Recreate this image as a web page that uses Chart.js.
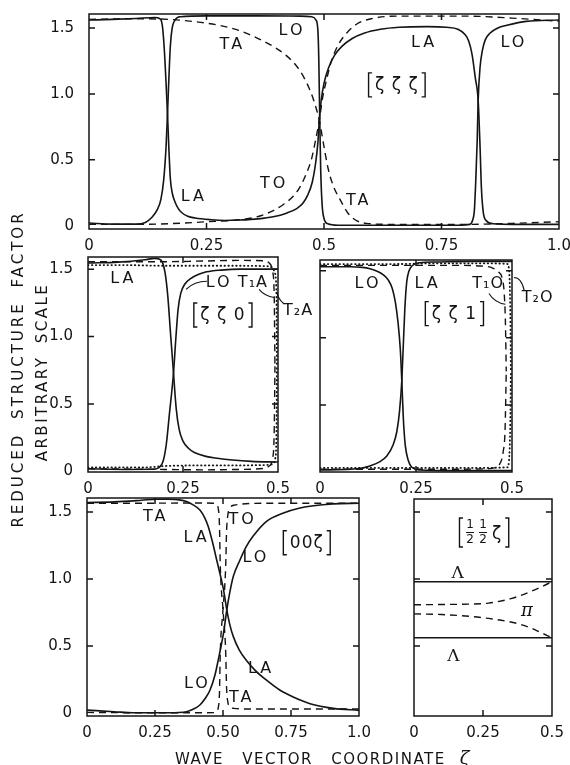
<!DOCTYPE html>
<html lang="en">
<head>
<meta charset="UTF-8">
<title>Reduced structure factor vs wave vector coordinate</title>
<style>
  body { margin: 0; background: #fff; }
  .page { position: relative; width: 570px; height: 765px; overflow: hidden; font-family: "DejaVu Sans", sans-serif; color: #141414; }
  .page canvas { position: absolute; left: 0; top: 0; }
  .ytitle { position: absolute; white-space: nowrap; font-size: 15px; line-height: 15px; transform: translate(-50%, -50%) rotate(-90deg); }
  .xtitle { position: absolute; left: 175px; top: 750px; white-space: nowrap; font-size: 15px; line-height: 15px; letter-spacing: 1.5px; word-spacing: 12px; }
  .xtitle i { font-family: "DejaVu Serif", serif; font-size: 18px; margin-left: 14px; }
</style>
</head>
<body>
<div class="page">
  <canvas id="p1" width="570" height="765"></canvas>
  <canvas id="p2" width="570" height="765"></canvas>
  <canvas id="p3" width="570" height="765"></canvas>
  <canvas id="p4" width="570" height="765"></canvas>
  <canvas id="p5" width="570" height="765"></canvas>
  <div class="ytitle" style="left:18px; top:369px; letter-spacing:3px; word-spacing:6px;">REDUCED STRUCTURE FACTOR</div>
  <div class="ytitle" style="left:42px; top:372px; letter-spacing:2.5px; word-spacing:5px;">ARBITRARY SCALE</div>
  <div class="xtitle">WAVE VECTOR COORDINATE<i>ζ</i></div>
</div>

<script src="https://cdn.jsdelivr.net/npm/chart.js"></script>
<script>
// ---- tick values / labels ----
const yTickVals = [0, 0.5, 1.0, 1.5];
const yTickText = ['0', '0.5', '1.0', '1.5'];
const xFullVals = [0, 0.25, 0.5, 0.75, 1.0];
const xFullText = ['0', '0.25', '0.5', '0.75', '1.0'];
const x00zText = ['0', '0.25', '0.50', '0.75', '1.0'];
const xHalfVals = [0, 0.25, 0.5];
const xHalfText = ['0', '0.25', '0.5'];

// ---- [zeta zeta zeta] ----
const zzzLA = [[0,1.56],[0.05,1.565],[0.1,1.572],[0.14,1.58],[0.15,1.572],[0.156,1.52],[0.16,1.35],[0.164,1.08],[0.167,0.85],[0.17,0.58],[0.173,0.36],[0.177,0.25],[0.183,0.18],[0.19,0.13],[0.197,0.1],[0.21,0.072],[0.226,0.058],[0.26,0.045],[0.289,0.04],[0.32,0.043],[0.36,0.052],[0.392,0.068],[0.42,0.095],[0.442,0.13],[0.455,0.17],[0.465,0.23],[0.475,0.33],[0.482,0.47],[0.487,0.63],[0.49,0.8],[0.494,0.95],[0.5,1.08],[0.51,1.2],[0.522,1.29],[0.538,1.36],[0.56,1.42],[0.585,1.46],[0.62,1.49],[0.66,1.505],[0.72,1.51],[0.76,1.505],[0.785,1.49],[0.8,1.45],[0.808,1.4],[0.815,1.3],[0.822,1.12],[0.828,0.95],[0.832,0.6],[0.835,0.28],[0.839,0.1],[0.845,0.04],[0.86,0.015],[0.9,0.01],[1,0.01]];
const zzzLO = [[0,0.02],[0.05,0.012],[0.1,0.012],[0.12,0.025],[0.133,0.06],[0.145,0.12],[0.153,0.2],[0.159,0.35],[0.164,0.6],[0.167,0.85],[0.17,1.12],[0.173,1.36],[0.177,1.5],[0.183,1.56],[0.195,1.585],[0.25,1.592],[0.35,1.592],[0.45,1.59],[0.474,1.585],[0.483,1.56],[0.487,1.48],[0.489,1.25],[0.491,0.8],[0.493,0.42],[0.496,0.16],[0.5,0.055],[0.508,0.015],[0.53,0.004],[0.7,0.003],[0.79,0.004],[0.81,0.01],[0.816,0.04],[0.82,0.12],[0.823,0.35],[0.826,0.65],[0.828,0.95],[0.832,1.2],[0.837,1.33],[0.843,1.41],[0.853,1.46],[0.87,1.5],[0.889,1.52],[0.93,1.55],[1,1.56]];
const zzzTA = [[0,1.565],[0.1,1.57],[0.17,1.565],[0.22,1.55],[0.27,1.525],[0.32,1.48],[0.36,1.42],[0.392,1.36],[0.42,1.29],[0.442,1.21],[0.458,1.12],[0.47,1.03],[0.48,0.93],[0.49,0.8],[0.5,0.6],[0.509,0.43],[0.52,0.3],[0.534,0.2],[0.55,0.1],[0.566,0.045],[0.59,0.018],[0.65,0.01],[0.8,0.01],[0.9,0.018],[1,0.03]];
const zzzTO = [[0,0.01],[0.1,0.01],[0.2,0.02],[0.25,0.03],[0.32,0.045],[0.36,0.07],[0.392,0.115],[0.415,0.165],[0.435,0.225],[0.45,0.3],[0.463,0.4],[0.473,0.5],[0.481,0.63],[0.49,0.8],[0.497,0.97],[0.505,1.1],[0.515,1.24],[0.53,1.37],[0.548,1.46],[0.57,1.53],[0.6,1.57],[0.66,1.59],[0.8,1.59],[0.9,1.575],[1,1.55]];

// ---- [zeta zeta 0] ----
const zz0LA = [[0,1.545],[0.08,1.552],[0.15,1.57],[0.175,1.58],[0.187,1.575],[0.196,1.55],[0.203,1.47],[0.21,1.3],[0.217,1.03],[0.225,0.73],[0.232,0.47],[0.24,0.31],[0.25,0.225],[0.265,0.17],[0.28,0.14],[0.31,0.112],[0.34,0.098],[0.38,0.085],[0.43,0.075],[0.5,0.07]];
const zz0LO = [[0,0.02],[0.1,0.015],[0.17,0.016],[0.188,0.03],[0.198,0.08],[0.206,0.2],[0.214,0.42],[0.225,0.73],[0.231,0.98],[0.237,1.2],[0.244,1.32],[0.255,1.39],[0.27,1.43],[0.29,1.46],[0.312,1.48],[0.35,1.493],[0.4,1.5],[0.5,1.5]];
const zz0T1Ahi = [[0,1.555],[0.2,1.555],[0.3,1.56],[0.4,1.565],[0.46,1.562],[0.477,1.545],[0.486,1.48],[0.49,1.3],[0.492,0.78]];
const zz0T1Alo = [[0,0.02],[0.2,0.015],[0.3,0.012],[0.4,0.015],[0.46,0.022],[0.477,0.04],[0.486,0.1],[0.49,0.3],[0.492,0.78]];
const zz0T2Ahi = [[0,1.53],[0.1,1.53],[0.2,1.525],[0.3,1.525],[0.4,1.525],[0.47,1.522],[0.485,1.51],[0.492,1.47],[0.496,1.3],[0.497,0.78]];
const zz0T2Alo = [[0,0.03],[0.15,0.03],[0.2,0.04],[0.3,0.045],[0.4,0.045],[0.47,0.048],[0.486,0.055],[0.493,0.1],[0.496,0.3],[0.497,0.78]];

// ---- [zeta zeta 1] ----
const zz1LO = [[0,1.53],[0.08,1.53],[0.11,1.525],[0.13,1.515],[0.15,1.495],[0.165,1.47],[0.178,1.43],[0.188,1.37],[0.196,1.27],[0.203,1.12],[0.209,0.92],[0.213,0.68],[0.217,0.4],[0.222,0.2],[0.23,0.085],[0.239,0.035],[0.26,0.015],[0.35,0.01],[0.5,0.01]];
const zz1LA = [[0,0.015],[0.08,0.02],[0.11,0.03],[0.13,0.045],[0.155,0.075],[0.174,0.12],[0.19,0.2],[0.2,0.3],[0.207,0.45],[0.213,0.68],[0.217,0.95],[0.221,1.22],[0.226,1.42],[0.232,1.5],[0.239,1.535],[0.26,1.56],[0.3,1.565],[0.4,1.57],[0.5,1.57]];
const zz1T1Ohi = [[0,1.54],[0.2,1.54],[0.35,1.54],[0.42,1.535],[0.45,1.52],[0.465,1.49],[0.474,1.45],[0.48,1.32],[0.483,1.1],[0.485,0.75]];
const zz1T1Olo = [[0,0.02],[0.3,0.02],[0.44,0.025],[0.46,0.04],[0.47,0.07],[0.477,0.15],[0.482,0.32],[0.485,0.75]];
const zz1T2Ohi = [[0,1.55],[0.2,1.55],[0.3,1.555],[0.45,1.555],[0.488,1.55],[0.493,1.48],[0.496,1.1],[0.497,0.75]];
const zz1T2Olo = [[0,0.03],[0.2,0.03],[0.4,0.03],[0.488,0.035],[0.493,0.12],[0.496,0.45],[0.497,0.75]];

// ---- [0 0 zeta] ----
const z00LA = [[0,1.57],[0.1,1.575],[0.2,1.587],[0.256,1.595],[0.3,1.595],[0.34,1.59],[0.366,1.577],[0.39,1.553],[0.415,1.515],[0.432,1.46],[0.446,1.39],[0.462,1.27],[0.477,1.14],[0.49,1.03],[0.501,0.93],[0.514,0.77],[0.525,0.66],[0.538,0.57],[0.56,0.47],[0.587,0.39],[0.62,0.315],[0.66,0.245],[0.71,0.17],[0.758,0.12],[0.82,0.07],[0.906,0.035],[1,0.02]];
const z00LO = [[0,0.022],[0.1,0.01],[0.17,0.002],[0.3,0.002],[0.366,0.01],[0.39,0.028],[0.415,0.06],[0.435,0.11],[0.452,0.17],[0.47,0.28],[0.483,0.4],[0.493,0.5],[0.503,0.61],[0.514,0.77],[0.525,0.9],[0.538,1.02],[0.562,1.14],[0.585,1.24],[0.611,1.32],[0.66,1.43],[0.72,1.49],[0.783,1.53],[0.906,1.56],[1,1.565]];
const z00TA = [[0,1.565],[0.2,1.565],[0.4,1.567],[0.464,1.565],[0.476,1.555],[0.483,1.52],[0.487,1.4],[0.49,1.1],[0.5,0.77],[0.51,0.45],[0.513,0.2],[0.518,0.08],[0.526,0.045],[0.54,0.035],[0.6,0.03],[0.75,0.03],[1,0.03]];
const z00TO = [[0,0.005],[0.2,0.002],[0.4,0.002],[0.464,0.003],[0.476,0.012],[0.483,0.045],[0.487,0.15],[0.49,0.45],[0.5,0.77],[0.51,1.1],[0.513,1.35],[0.518,1.48],[0.526,1.53],[0.54,1.55],[0.66,1.565],[1,1.565]];

// ---- [1/2 1/2 zeta] ----
const hhzLamHi = [[0,0.98],[0.5,0.98]];
const hhzLamLo = [[0,0.562],[0.5,0.562]];
const hhzPiHi = [[0,0.808],[0.1,0.81],[0.2,0.813],[0.27,0.82],[0.32,0.838],[0.355,0.856],[0.39,0.88],[0.427,0.91],[0.46,0.94],[0.5,0.98]];
const hhzPiLo = [[0,0.74],[0.1,0.735],[0.21,0.72],[0.27,0.706],[0.33,0.687],[0.38,0.665],[0.427,0.632],[0.46,0.6],[0.5,0.562]];

// ---- drawing ----
const INK = '#141414';
const PAGE_W = 570, PAGE_H = 765;
const AXW = 40, AXH = 30;
const TICKFONT = { family: 'DejaVu Sans', size: 15 };

const SOLID = { borderDash: [], borderWidth: 1.6 };
const DASH = { borderDash: [7, 5], borderWidth: 1.4 };
const DOT = { borderDash: [0.5, 3.4], borderWidth: 1.8, borderCapStyle: 'round' };

function curve(pts, style) {
  return Object.assign({
    data: pts.map(p => ({ x: p[0], y: p[1] })),
    borderColor: INK, pointRadius: 0, fill: false,
    cubicInterpolationMode: 'monotone'
  }, style);
}

const NOTE_FONTS = {
  L: ['16px "DejaVu Sans"', '3px'],
  S: ['16px "DejaVu Sans"', '1px'],
  G: ['17px "DejaVu Serif"', '0px'],
  P: ['italic 18px "DejaVu Serif"', '0px']
};

function drawBracketed(ctx, cx, cy, inner, h) {
  const serif = 3.5, pad = 3;
  ctx.font = '17px "DejaVu Sans"';
  ctx.letterSpacing = '1px';
  let innerW;
  const fw = 8, gap = 5;
  if (inner === 'HALF') {
    innerW = fw + gap + fw + gap + ctx.measureText('ζ').width;
  } else {
    innerW = ctx.measureText(inner).width;
  }
  const total = innerW + 2 * (serif + pad);
  const x0 = cx - total / 2, x1 = cx + total / 2;
  ctx.lineWidth = 1.4;
  ctx.beginPath();
  ctx.moveTo(x0 + serif, cy - h / 2); ctx.lineTo(x0, cy - h / 2); ctx.lineTo(x0, cy + h / 2); ctx.lineTo(x0 + serif, cy + h / 2);
  ctx.moveTo(x1 - serif, cy - h / 2); ctx.lineTo(x1, cy - h / 2); ctx.lineTo(x1, cy + h / 2); ctx.lineTo(x1 - serif, cy + h / 2);
  ctx.stroke();
  let x = x0 + serif + pad;
  ctx.textAlign = 'left';
  ctx.textBaseline = 'middle';
  if (inner === 'HALF') {
    for (let k = 0; k < 2; k++) {
      ctx.font = '12px "DejaVu Sans"';
      ctx.letterSpacing = '0px';
      ctx.textAlign = 'center';
      ctx.fillText('1', x + fw / 2, cy - 7.5);
      ctx.fillText('2', x + fw / 2, cy + 7.5);
      ctx.beginPath(); ctx.moveTo(x, cy); ctx.lineTo(x + fw, cy); ctx.lineWidth = 1; ctx.stroke();
      x += fw + gap;
    }
    ctx.textAlign = 'left';
    ctx.font = '17px "DejaVu Sans"';
    ctx.fillText('ζ', x, cy + 2);
  } else {
    ctx.fillText(inner, x, cy + 1);
  }
}

const SPECS = {};

const deco = {
  id: 'deco',
  afterDatasetsDraw(chart) {
    const spec = SPECS[chart.canvas.id];
    const { ctx, chartArea: a } = chart;
    const sx = chart.scales.x, sy = chart.scales.y;
    ctx.save();
    ctx.strokeStyle = INK;
    ctx.fillStyle = INK;
    ctx.lineWidth = 1.5;
    ctx.setLineDash([]);
    ctx.strokeRect(a.left, a.top, a.right - a.left, a.bottom - a.top);
    const len = 6;
    ctx.beginPath();
    spec.xTicks.forEach(v => {
      const px = sx.getPixelForValue(v);
      if (px - a.left < 4 || a.right - px < 4) return;
      ctx.moveTo(px, a.top); ctx.lineTo(px, a.top + len);
      ctx.moveTo(px, a.bottom); ctx.lineTo(px, a.bottom - len);
    });
    yTickVals.forEach(v => {
      const py = sy.getPixelForValue(v);
      if (py - a.top < 4 || a.bottom - py < 4) return;
      ctx.moveTo(a.left, py); ctx.lineTo(a.left + len, py);
      ctx.moveTo(a.right, py); ctx.lineTo(a.right - len, py);
    });
    ctx.stroke();

    ctx.lineWidth = 1.1;
    (spec.leaders || []).forEach(l => {
      ctx.beginPath();
      ctx.moveTo(sx.getPixelForValue(l[0]), sy.getPixelForValue(l[1]));
      ctx.quadraticCurveTo(sx.getPixelForValue(l[2]), sy.getPixelForValue(l[3]),
                           sx.getPixelForValue(l[4]), sy.getPixelForValue(l[5]));
      ctx.stroke();
    });

    spec.notes.forEach(n => {
      const px = sx.getPixelForValue(n.x), py = sy.getPixelForValue(n.y);
      if (n.b) {
        drawBracketed(ctx, px, py, n.t, n.h || 24);
        return;
      }
      const f = NOTE_FONTS[n.f || 'L'];
      ctx.font = f[0];
      ctx.letterSpacing = f[1];
      ctx.textAlign = 'center';
      ctx.textBaseline = 'middle';
      ctx.fillText(n.t, px, py);
    });
    ctx.restore();
  }
};

function panel(id, box, spec) {
  SPECS[id] = spec;
  new Chart(document.getElementById(id), {
    type: 'line',
    data: { datasets: spec.series },
    options: {
      responsive: false,
      animation: false,
      devicePixelRatio: 1,
      layout: { padding: { left: box.left - AXW, top: box.top, right: PAGE_W - box.right, bottom: PAGE_H - box.bottom - AXH } },
      plugins: { legend: { display: false }, tooltip: { enabled: false } },
      scales: {
        x: {
          type: 'linear', min: spec.xMin, max: spec.xMax,
          grid: { display: false }, border: { display: false },
          afterBuildTicks: s => { s.ticks = spec.xTicks.map(v => ({ value: v })); },
          afterFit: s => { s.height = AXH; s.paddingLeft = 0; s.paddingRight = 0; },
          ticks: { padding: 0, color: INK, font: TICKFONT, maxRotation: 0, autoSkip: false,
                   callback: (v, i) => spec.xText[i] }
        },
        y: {
          type: 'linear', min: spec.yMin, max: spec.yMax,
          grid: { display: false }, border: { display: false },
          afterBuildTicks: s => { s.ticks = yTickVals.map(v => ({ value: v })); },
          afterFit: s => { s.width = AXW; s.paddingTop = 0; s.paddingBottom = 0; },
          ticks: { display: spec.yLabels, padding: 7, color: INK, font: TICKFONT, autoSkip: false,
                   callback: (v, i) => yTickText[i] }
        }
      }
    },
    plugins: [deco]
  });
}

panel('p1', { left: 89, top: 14, right: 559, bottom: 229 }, {
  xMin: 0, xMax: 1, yMin: -0.025, yMax: 1.606, xTicks: xFullVals, xText: xFullText, yLabels: true,
  series: [curve(zzzLA, SOLID), curve(zzzLO, SOLID), curve(zzzTA, DASH), curve(zzzTO, DASH)],
  notes: [
    { t: 'TA', x: 0.305, y: 1.371 }, { t: 'LO', x: 0.432, y: 1.477 },
    { t: 'LA', x: 0.713, y: 1.39 }, { t: 'LO', x: 0.904, y: 1.39 },
    { t: 'ζ ζ ζ', x: 0.655, y: 1.068, b: true },
    { t: 'LA', x: 0.223, y: 0.22 }, { t: 'TO', x: 0.394, y: 0.32 }, { t: 'TA', x: 0.574, y: 0.187 }
  ]
});

panel('p2', { left: 88, top: 257, right: 278, bottom: 472 }, {
  xMin: 0, xMax: 0.5, yMin: -0.004, yMax: 1.59, xTicks: xHalfVals, xText: xHalfText, yLabels: true,
  series: [curve(zz0LA, SOLID), curve(zz0LO, SOLID), curve(zz0T1Ahi, DASH), curve(zz0T1Alo, DASH),
           curve(zz0T2Ahi, DOT), curve(zz0T2Alo, DOT)],
  notes: [
    { t: 'LA', x: 0.093, y: 1.428 }, { t: 'LO', x: 0.345, y: 1.40 },
    { t: 'T₁A', x: 0.434, y: 1.40, f: 'S' }, { t: 'ζ ζ 0', x: 0.355, y: 1.16, b: true },
    { t: 'T₂A', x: 0.553, y: 1.19, f: 'S' }
  ],
  leaders: [[0.313, 1.41, 0.28, 1.41, 0.258, 1.35], [0.45, 1.35, 0.465, 1.3, 0.49, 1.29], [0.515, 1.245, 0.5, 1.28, 0.497, 1.33]]
});

panel('p3', { left: 320, top: 260, right: 512, bottom: 472 }, {
  xMin: 0, xMax: 0.5, yMin: 0, yMax: 1.58, xTicks: xHalfVals, xText: xHalfText, yLabels: false,
  series: [curve(zz1LO, SOLID), curve(zz1LA, SOLID), curve(zz1T1Ohi, DASH), curve(zz1T1Olo, DASH),
           curve(zz1T2Ohi, DOT), curve(zz1T2Olo, DOT)],
  notes: [
    { t: 'LO', x: 0.125, y: 1.40 }, { t: 'LA', x: 0.28, y: 1.40 },
    { t: 'T₁O', x: 0.438, y: 1.40, f: 'S' }, { t: 'ζ ζ 1', x: 0.35, y: 1.18, b: true },
    { t: 'T₂O', x: 0.567, y: 1.30, f: 'S' }
  ],
  leaders: [[0.44, 1.33, 0.455, 1.26, 0.483, 1.25], [0.532, 1.35, 0.525, 1.45, 0.505, 1.45]]
});

panel('p4', { left: 87, top: 498, right: 359, bottom: 716 }, {
  xMin: 0, xMax: 1, yMin: -0.022, yMax: 1.604, xTicks: xFullVals, xText: x00zText, yLabels: true,
  series: [curve(z00LA, SOLID), curve(z00LO, SOLID), curve(z00TA, DASH), curve(z00TO, DASH)],
  notes: [
    { t: 'TA', x: 0.253, y: 1.465 }, { t: 'LA', x: 0.403, y: 1.31 },
    { t: 'TO', x: 0.572, y: 1.44 }, { t: 'LO', x: 0.621, y: 1.155 },
    { t: '00ζ', x: 0.808, y: 1.27, b: true },
    { t: 'LA', x: 0.64, y: 0.33 }, { t: 'LO', x: 0.406, y: 0.216 }, { t: 'TA', x: 0.569, y: 0.116 }
  ]
});

panel('p5', { left: 414, top: 499, right: 552, bottom: 716 }, {
  xMin: 0, xMax: 0.5, yMin: -0.022, yMax: 1.597, xTicks: xHalfVals, xText: xHalfText, yLabels: false,
  series: [curve(hhzLamHi, SOLID), curve(hhzLamLo, SOLID), curve(hhzPiHi, DASH), curve(hhzPiLo, DASH)],
  notes: [
    { t: 'HALF', x: 0.254, y: 1.347, b: true, h: 29 },
    { t: 'Λ', x: 0.158, y: 1.043, f: 'G' }, { t: 'π', x: 0.409, y: 0.761, f: 'P' },
    { t: 'Λ', x: 0.143, y: 0.42, f: 'G' }
  ]
});
</script>
</body>
</html>
